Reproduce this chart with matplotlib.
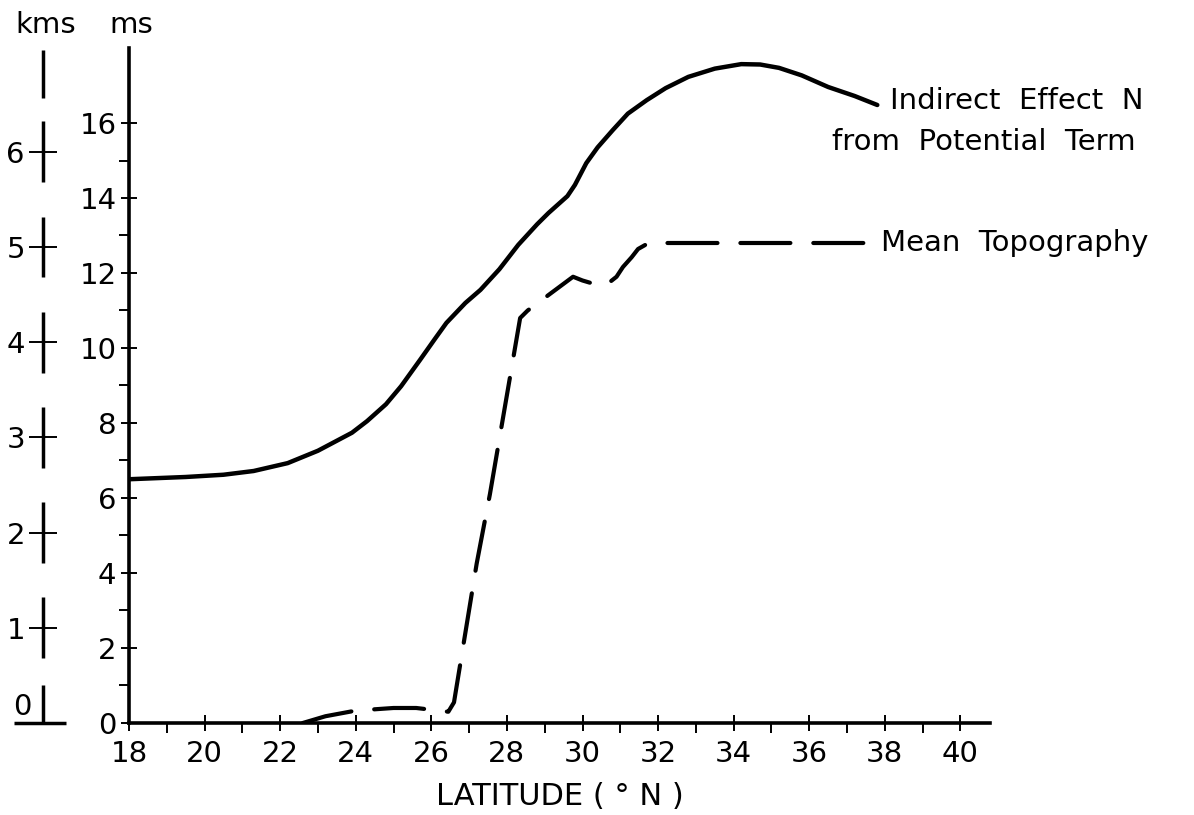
import numpy as np
import matplotlib
matplotlib.use("Agg")
import matplotlib.pyplot as plt

plt.rcParams['font.family'] = ['DejaVu Sans']

# indirect effect from potential term (ms)
lat_pot = [18.0, 19.5, 20.5, 21.3, 22.2, 23.0, 23.9, 24.3, 24.8, 25.2, 25.7,
           26.1, 26.4, 26.9, 27.3, 27.8, 28.3, 28.8, 29.1, 29.4, 29.6, 29.8,
           30.1, 30.4, 30.8, 31.2, 31.7, 32.2, 32.8, 33.5, 34.2, 34.7, 35.2,
           35.8, 36.5, 37.2, 37.8]
pot = [6.5, 6.56, 6.62, 6.72, 6.93, 7.26, 7.74, 8.05, 8.5, 8.98, 9.68,
       10.25, 10.67, 11.2, 11.55, 12.1, 12.75, 13.3, 13.6, 13.87, 14.05, 14.35,
       14.93, 15.35, 15.81, 16.25, 16.61, 16.93, 17.23, 17.45, 17.57, 17.56, 17.47,
       17.27, 16.96, 16.72, 16.48]

# mean topography (ms)
lat_topo = [22.6, 23.2, 24.0, 25.0, 25.6, 26.45, 26.6, 27.2, 27.55, 28.35,
            28.55, 29.75, 30.0, 30.4, 30.65, 30.9, 31.07, 31.3, 31.47, 31.75, 37.8]
topo = [0.0, 0.18, 0.33, 0.4, 0.4, 0.3, 0.55, 4.25, 6.1, 10.8,
        11.0, 11.9, 11.8, 11.68, 11.7, 11.9, 12.16, 12.42, 12.64, 12.8, 12.8]

x_major = list(range(18, 41, 2))
x_minor = list(range(19, 40, 2))
ms_major = list(range(0, 17, 2))
ms_minor = list(range(1, 16, 2))
km_ticks = [1, 2, 3, 4, 5, 6]

fig = plt.figure(figsize=(11.94, 8.15), dpi=100)
ax = fig.add_axes([0.108, 0.1129, 0.7211, 0.8282])

ax.plot(lat_pot, pot, color='black', lw=3.2, solid_capstyle='round',
        solid_joinstyle='round')
ax.plot(lat_topo, topo, color='black', lw=3.0, linestyle=(0, (12, 5.5)),
        dash_capstyle='round', dash_joinstyle='round')

ax.set_xlim(18, 40.78)
ax.set_ylim(0, 18)
for s in ['top', 'right']:
    ax.spines[s].set_visible(False)
for s in ['left', 'bottom']:
    ax.spines[s].set_linewidth(2.6)

ax.set_xticks(x_major)
ax.set_xticks(x_minor, minor=True)
ax.set_yticks(ms_major)
ax.set_yticks(ms_minor, minor=True)
ax.tick_params(which='major', direction='inout', length=12, width=1.4,
               labelsize=21, pad=3)
ax.tick_params(which='minor', direction='out', length=7, width=1.4)
ax.tick_params(axis='x', which='major', pad=6)

ax.set_xlabel('LATITUDE ( ° N )', fontsize=22, labelpad=10)

ax.text(38.13, 16.6, 'Indirect  Effect  N', fontsize=21, va='center',
        ha='left', clip_on=False)
ax.text(36.6, 15.5, 'from  Potential  Term', fontsize=21, va='center',
        ha='left', clip_on=False)
ax.text(37.9, 12.8, 'Mean  Topography', fontsize=21, va='center',
        ha='left', clip_on=False)

# kms scale on the far left
axk = fig.add_axes([0.0, 0.1129, 86 / 1194, 0.8282])
axk.set_xlim(0, 1)
axk.set_ylim(0, 7.09)
axk.patch.set_visible(False)
for s in axk.spines.values():
    s.set_visible(False)
axk.spines['left'].set_position(('axes', 0.5))
axk.set_xticks([])
axk.set_yticks(km_ticks)
axk.tick_params(axis='y', direction='inout', length=20, width=1.4,
                labelsize=21, pad=3)
for k in km_ticks:
    axk.vlines(0.5, k - 0.32, k + 0.32, color='black', lw=2.5, clip_on=False)
axk.vlines(0.5, 0.0, 0.4, color='black', lw=2.5, clip_on=False)
axk.vlines(0.5, 6.57, 7.07, color='black', lw=2.5, clip_on=False)
axk.hlines(0, 0.163, 0.767, color='black', lw=2.5, clip_on=False)
axk.text(0.15, 0.02, '0', fontsize=21, ha='left', va='bottom')

fig.text(46 / 1194, 1 - 33 / 815, 'kms', fontsize=21, ha='center', va='baseline')
fig.text(131 / 1194, 1 - 33 / 815, 'ms', fontsize=21, ha='center', va='baseline')

fig.savefig('out.png', dpi=100)
